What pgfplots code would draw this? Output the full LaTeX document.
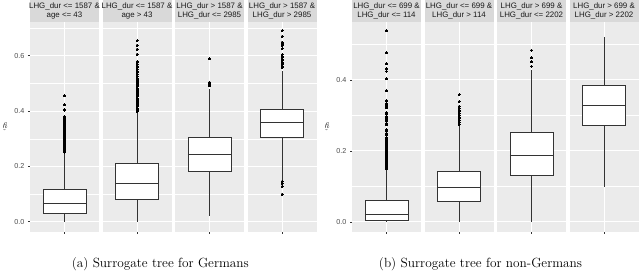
\documentclass[border=0pt]{standalone}
\usepackage{pgfplots}
\pgfplotsset{compat=1.18}
\usepgfplotslibrary{statistics}
\usetikzlibrary{calc}
\usepackage{fontspec}
\setsansfont{Liberation Sans}
\definecolor{panelbg}{HTML}{EBEBEB}
\definecolor{stripbg}{HTML}{D9D9D9}
\definecolor{boxcol}{HTML}{333333}
\definecolor{tickcol}{HTML}{4D4D4D}
\definecolor{striptext}{HTML}{1A1A1A}
\pgfplotsset{
  facet/.style={
    scale only axis, width=69pt, height=210pt, anchor=south west,
    xmin=0.4, xmax=1.6, xtick={1}, xticklabels={},
    axis background/.style={fill=panelbg},
    axis line style={draw=none},
    xmajorgrids, ymajorgrids, yminorgrids,
    major grid style={white, line width=0.9pt},
    minor grid style={white, line width=0.45pt},
    tick align=outside, tick pos=left,
    major tick length=2pt, minor tick length=0pt,
    every tick/.style={draw=boxcol, line width=0.5pt},
    yticklabel=\empty, ytick style={draw=none},
    clip=false,
  },
  firstpanel/.style={
    yticklabel style={font=\fontsize{7.2}{8}\sffamily\selectfont, text=tickcol},
    yticklabel={\pgfmathprintnumber{\tick}}, ytick style={draw=boxcol, line width=0.5pt},
    /pgf/number format/.cd, fixed, fixed zerofill, precision=1, assume math mode=true,
    /pgfplots/.cd,
    ylabel={$\hat{y}$},
    ylabel style={font=\fontsize{9}{10}\selectfont, text=striptext, at={(axis description cs:-0.36,0.5)}, anchor=center, rotate=90},
  },
  leftax/.style={ymin=-0.036, ymax=0.723, ytick={0,0.2,0.4,0.6}, minor ytick={0.1,0.3,0.5,0.7}},
  rightax/.style={ymin=-0.028, ymax=0.564, ytick={0,0.2,0.4}, minor ytick={0.1,0.3,0.5}},
  bx/.style={draw=boxcol, fill=white, line width=0.5pt, solid,
    mark=*, mark size=1pt, every mark/.append style={fill=black, draw=black, line width=0pt},
    boxplot/every median/.style={line width=1.1pt}},
}
\newcommand{\strip}[3]{%
  \fill[stripbg] (#1,-0.5pt) rectangle ($(#1,-21.7pt)+(69pt,0pt)$);
  \node[align=center, font=\fontsize{7.9}{9}\sffamily\selectfont, text=striptext, inner sep=0pt]
    at ($(#1,-11.2pt)+(34.5pt,0pt)$) {#2\\#3};}
\begin{document}
\begin{tikzpicture}
\path[use as bounding box] (0pt,0pt) rectangle (640pt,-275pt);
% ===== Left chart =====
\strip{30pt}{LHG\_dur <= 1587 \&}{age <= 43}
\strip{102.5pt}{LHG\_dur <= 1587 \&}{age > 43}
\strip{175pt}{LHG\_dur > 1587 \&}{LHG\_dur <= 2985}
\strip{247.5pt}{LHG\_dur > 1587 \&}{LHG\_dur > 2985}
\begin{axis}[facet, leftax, firstpanel, at={(30pt,-231.7pt)}]
\addplot[bx, boxplot prepared={draw direction=y, draw position=1, box extend=0.75, whisker extend=0, lower whisker=0, lower quartile=0.029, median=0.065, upper quartile=0.117, upper whisker=0.249}]
 table[row sep=\\, y index=0] {data\\ 0.455\\ 0.423\\ 0.406\\ 0.403\\ 0.381\\ 0.377\\ 0.372\\ 0.368\\ 0.364\\ 0.360\\ 0.356\\ 0.352\\ 0.348\\ 0.344\\ 0.340\\ 0.336\\ 0.332\\ 0.328\\ 0.324\\ 0.320\\ 0.316\\ 0.312\\ 0.308\\ 0.304\\ 0.300\\ 0.296\\ 0.292\\ 0.288\\ 0.284\\ 0.280\\ 0.276\\ 0.272\\ 0.268\\ 0.264\\ 0.260\\ 0.256\\ 0.252\\};
\end{axis}
\begin{axis}[facet, leftax, at={(102.5pt,-231.7pt)}]
\addplot[bx, boxplot prepared={draw direction=y, draw position=1, box extend=0.75, whisker extend=0, lower whisker=0, lower quartile=0.083, median=0.137, upper quartile=0.210, upper whisker=0.397}]
 table[row sep=\\, y index=0] {data\\ 0.654\\ 0.638\\ 0.624\\ 0.606\\ 0.579\\ 0.574\\ 0.568\\ 0.562\\ 0.556\\ 0.550\\ 0.544\\ 0.538\\ 0.532\\ 0.526\\ 0.519\\ 0.515\\ 0.511\\ 0.507\\ 0.503\\ 0.499\\ 0.495\\ 0.491\\ 0.487\\ 0.483\\ 0.479\\ 0.475\\ 0.471\\ 0.467\\ 0.463\\ 0.459\\ 0.455\\ 0.451\\ 0.447\\ 0.443\\ 0.439\\ 0.435\\ 0.431\\ 0.427\\ 0.423\\ 0.419\\ 0.415\\ 0.411\\ 0.407\\ 0.403\\ 0.400\\};
\end{axis}
\begin{axis}[facet, leftax, at={(175pt,-231.7pt)}]
\addplot[bx, boxplot prepared={draw direction=y, draw position=1, box extend=0.75, whisker extend=0, lower whisker=0.020, lower quartile=0.181, median=0.243, upper quartile=0.306, upper whisker=0.481}]
 table[row sep=\\, y index=0] {data\\ 0.589\\ 0.505\\ 0.500\\ 0.495\\ 0.491\\};
\end{axis}
\begin{axis}[facet, leftax, at={(247.5pt,-231.7pt)}]
\addplot[bx, boxplot prepared={draw direction=y, draw position=1, box extend=0.75, whisker extend=0, lower whisker=0.152, lower quartile=0.306, median=0.359, upper quartile=0.405, upper whisker=0.543}]
 table[row sep=\\, y index=0] {data\\ 0.690\\ 0.670\\ 0.649\\ 0.645\\ 0.642\\ 0.637\\ 0.625\\ 0.603\\ 0.598\\ 0.592\\ 0.587\\ 0.582\\ 0.577\\ 0.572\\ 0.567\\ 0.562\\ 0.557\\ 0.146\\ 0.137\\ 0.128\\ 0.100\\};
\end{axis}
\node[font=\fontsize{13.3}{16}\selectfont, anchor=base] at (160.3pt,-267pt) {(a) Surrogate tree for Germans};
% ===== Right chart =====
\strip{352pt}{LHG\_dur <= 699 \&}{LHG\_dur <= 114}
\strip{424.5pt}{LHG\_dur <= 699 \&}{LHG\_dur > 114}
\strip{497pt}{LHG\_dur > 699 \&}{LHG\_dur <= 2202}
\strip{569.5pt}{LHG\_dur > 699 \&}{LHG\_dur > 2202}
\begin{axis}[facet, rightax, firstpanel, at={(352pt,-231.7pt)}]
\addplot[bx, boxplot prepared={draw direction=y, draw position=1, box extend=0.75, whisker extend=0, lower whisker=0, lower quartile=0.003, median=0.021, upper quartile=0.060, upper whisker=0.145}]
 table[row sep=\\, y index=0] {data\\ 0.539\\ 0.476\\ 0.445\\ 0.431\\ 0.424\\ 0.403\\ 0.370\\ 0.341\\ 0.333\\ 0.329\\ 0.325\\ 0.322\\ 0.307\\ 0.303\\ 0.298\\ 0.293\\ 0.288\\ 0.283\\ 0.278\\ 0.274\\ 0.260\\ 0.255\\ 0.250\\ 0.245\\ 0.237\\ 0.233\\ 0.229\\ 0.225\\ 0.221\\ 0.217\\ 0.213\\ 0.209\\ 0.205\\ 0.201\\ 0.197\\ 0.193\\ 0.189\\ 0.185\\ 0.181\\ 0.177\\ 0.173\\ 0.169\\ 0.165\\ 0.161\\ 0.157\\ 0.153\\ 0.149\\};
\end{axis}
\begin{axis}[facet, rightax, at={(424.5pt,-231.7pt)}]
\addplot[bx, boxplot prepared={draw direction=y, draw position=1, box extend=0.75, whisker extend=0, lower whisker=0, lower quartile=0.058, median=0.097, upper quartile=0.143, upper whisker=0.270}]
 table[row sep=\\, y index=0] {data\\ 0.358\\ 0.339\\ 0.325\\ 0.320\\ 0.315\\ 0.310\\ 0.305\\ 0.300\\ 0.295\\ 0.290\\ 0.285\\ 0.280\\ 0.275\\};
\end{axis}
\begin{axis}[facet, rightax, at={(497pt,-231.7pt)}]
\addplot[bx, boxplot prepared={draw direction=y, draw position=1, box extend=0.75, whisker extend=0, lower whisker=0, lower quartile=0.130, median=0.186, upper quartile=0.252, upper whisker=0.429}]
 table[row sep=\\, y index=0] {data\\ 0.484\\ 0.463\\ 0.451\\ 0.438\\};
\end{axis}
\begin{axis}[facet, rightax, at={(569.5pt,-231.7pt)}]
\addplot[bx, boxplot prepared={draw direction=y, draw position=1, box extend=0.75, whisker extend=0, lower whisker=0.098, lower quartile=0.271, median=0.327, upper quartile=0.386, upper whisker=0.520}]
 coordinates {};
\end{axis}
\node[font=\fontsize{13.3}{16}\selectfont, anchor=base] at (480.5pt,-267pt) {(b) Surrogate tree for non-Germans};
\end{tikzpicture}
\end{document}
